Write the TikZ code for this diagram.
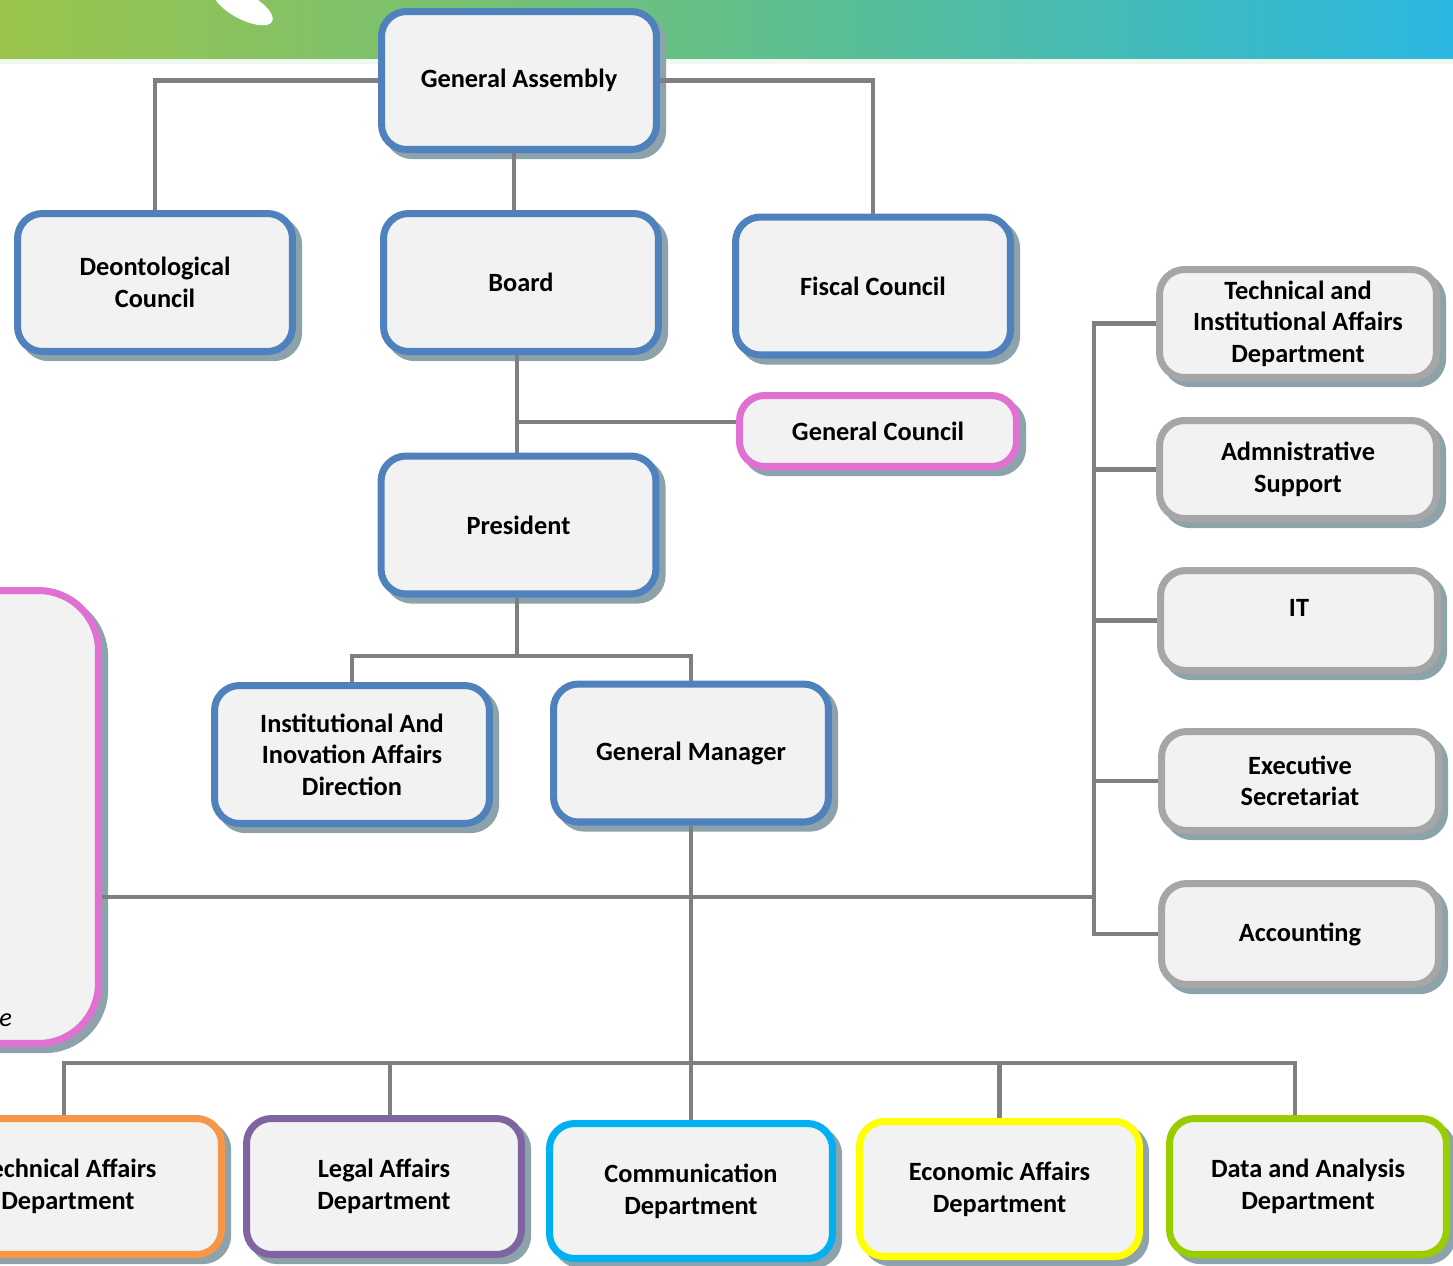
\documentclass[tikz,border=0pt]{standalone}
\usepackage{fontspec}
\setmainfont{Carlito}
\usetikzlibrary{shadows}

\definecolor{boxfill}{HTML}{F2F2F2}
\definecolor{bluebd}{HTML}{4F81BD}
\definecolor{pinkbd}{HTML}{E070D2}
\definecolor{graybd}{HTML}{A6A6A6}
\definecolor{orangebd}{HTML}{F79646}
\definecolor{purplebd}{HTML}{8064A2}
\definecolor{cyanbd}{HTML}{00B0F0}
\definecolor{yellowbd}{HTML}{FFFF00}
\definecolor{greenbd}{HTML}{9ACD00}
\definecolor{linkgray}{HTML}{7F7F7F}
\definecolor{shadowc}{HTML}{8DA3AC}
\definecolor{bannerl}{HTML}{9BC44B}
\definecolor{bannerm}{HTML}{62BF88}
\definecolor{bannerr}{HTML}{2AB7E1}
\definecolor{bannerfade}{HTML}{EEF8EE}

\begin{document}
\begin{tikzpicture}[
            x=0.02cm, y=-0.02cm,
            box/.style={draw=bluebd, fill=boxfill, line width=4pt, rounded corners=0.5cm,
                align=center, font=\bfseries\fontsize{15}{18}\selectfont,
                minimum width=5.5cm, minimum height=2.76cm,
                general shadow={fill=shadowc, draw=shadowc, line width=4pt,
                    shadow xshift=3.5pt, shadow yshift=-3.5pt}},
            side/.style={box, draw=graybd, minimum width=5.54cm},
            link/.style={draw=linkgray, line width=2.4pt},
            ]
            \useasboundingbox (0,0) rectangle (1453,1265);
            \clip (0,0) rectangle (1453,1265);
            % banner
            \fill[bannerfade] (0,58) rectangle (1453,64);
            \shade[left color=bannerl, right color=bannerr, middle color=bannerm]
                (0,0) rectangle (1453,58);
            \fill[white, rotate around={-28:(243,6)}] (243,6) ellipse (33 and 13);

            % top of the chart
            \node[box] (ga) at (519,80.5) {General Assembly};
            \node[box] (deon) at (155,282.5) {Deontological\\Council};
            \node[box] (board) at (521,282.5) {Board};
            \node[box] (fiscal) at (873,286) {Fiscal Council};
            \node[box, draw=pinkbd, minimum width=5.54cm, minimum height=1.42cm] (gcouncil) at (878,431) {General Council};
            \node[box] (pres) at (518.5,525) {President};
            \node[box] (iiad) at (352,754.5) {Institutional And\\Inovation Affairs\\Direction};
            \node[box] (gm) at (691,753) {General Manager};

            % right column
            \node[side, minimum height=2.16cm] (tiad) at (1298,323.5) {Technical and\\Institutional Affairs\\Department};
            \node[side, minimum height=1.96cm] (admin) at (1298,469.5) {Admnistrative\\Support};
            \node[side, minimum height=2cm, text depth=0.5cm] (it) at (1299,620.5) {IT};
            \node[side, minimum height=1.98cm] (exec) at (1300,781) {Executive\\Secretariat};
            \node[side, minimum height=2.02cm] (acc) at (1300,934) {Accounting};

            % left committee
            \node[box, draw=pinkbd, rounded corners=1.2cm, minimum width=5.86cm, minimum height=9.06cm] (pinkbig) at (-48,817) {};
            \node[anchor=west, font=\itshape\fontsize{15}{18}\selectfont, inner sep=0pt] (pinktext) at (-1,1020) {e};

            % departments
            \node[box, draw=orangebd, minimum width=6.14cm, minimum height=2.72cm] (techaff) at (68,1186.5) {Technical Affairs\\Department};
            \node[box, draw=purplebd, minimum height=2.72cm] (legal) at (384,1186.5) {Legal Affairs\\Department};
            \node[box, draw=cyanbd, minimum width=5.66cm, minimum height=2.7cm] (comm) at (691,1191) {Communication\\Department};
            \node[box, draw=yellowbd, minimum width=5.6cm, minimum height=2.7cm] (econ) at (999.5,1189) {Economic Affairs\\Department};
            \node[box, draw=greenbd, minimum width=5.54cm, minimum height=2.72cm] (data) at (1308,1186.5) {Data and Analysis\\Department};

            \coordinate (pj) at (517,656);
            \coordinate (rbus) at (1094,897);
            \coordinate (bbus) at (691,1063);

            \draw[link] (ga.west) -| (deon.north);
            \draw[link] (ga.east) -| (fiscal.north);
            \draw[link] ([xshift=-0.1cm]ga.south) -- ([xshift=-0.1cm]ga.south |- board.north);
            \draw[link] (pj |- board.south) -- (pj |- pres.north);
            \draw[link] ([yshift=0.18cm]gcouncil.west) -- ([yshift=0.18cm]gcouncil.west -| pj);
            \draw[link] (pj |- pres.south) -- (pj);
            \draw[link] (iiad.north) |- (pj) -| (gm.north);
            \draw[link] (gm.south) -- (comm.north);
            \draw[link] (pinkbig.east |- rbus) -- (rbus);
            \draw[link] (tiad.west) -| (acc.west -| rbus) -- (acc.west);
            \draw[link] (admin.west) -- (admin.west -| rbus);
            \draw[link] (it.west) -- (it.west -| rbus);
            \draw[link] (exec.west) -- (exec.west -| rbus);
            \draw[link] ([xshift=-0.08cm]techaff.north) |- (bbus) -| ([xshift=-0.26cm]data.north);
            \draw[link] ([xshift=0.12cm]legal.north) -- ([xshift=0.12cm]legal.north |- bbus);
            \draw[link] (econ.north) -- (econ.north |- bbus);
        \end{tikzpicture}
\end{document}
